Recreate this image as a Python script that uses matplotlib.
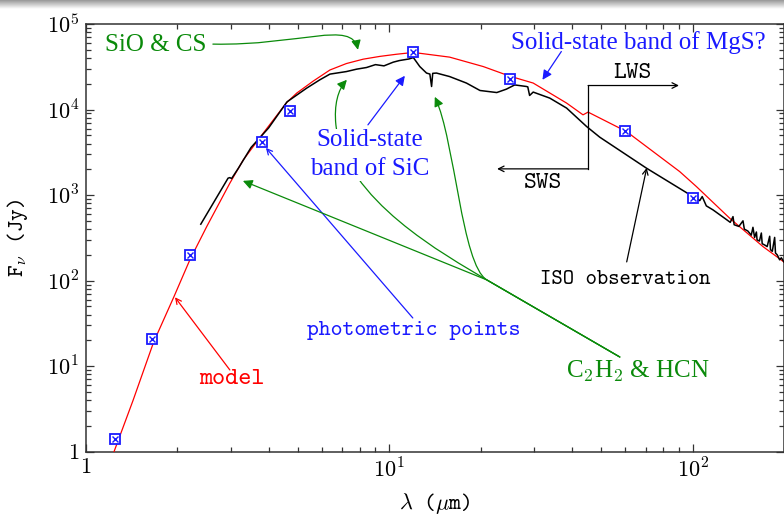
import numpy as np
import matplotlib
matplotlib.use('Agg')
import matplotlib.pyplot as plt
from matplotlib.path import Path
from matplotlib.patches import FancyArrowPatch
from matplotlib.ticker import FixedLocator, FixedFormatter, LogLocator, NullFormatter

plt.rcParams['mathtext.fontset'] = 'cm'
plt.rcParams['font.family'] = ['Liberation Serif', 'DejaVu Serif']
TT = ['cmtt10', 'DejaVu Sans Mono']

# ---------------- data ----------------
model_wavelength = [1.237, 1.43, 1.67, 1.95, 2.20, 2.50, 2.98, 3.30, 3.84, 4.58, 4.95, 5.61,
                    6.37, 7.22, 8.20, 9.30, 10.56, 12.0, 15.8, 20.4, 25.0, 29.8, 38.4, 43.5,
                    45.2, 60.5, 90.6, 102.9, 132.4, 170.5, 200.0]
model_flux = [1.0, 4.0, 19.0, 65.0, 175.0, 428.0, 1378.0, 2580.0, 5300.0, 12000.0, 15560.0,
              21500.0, 29000.0, 34500.0, 38800.0, 41800.0, 44300.0, 46500.0, 41000.0, 31800.0,
              24500.0, 20400.0, 11900.0, 8670.0, 9330.0, 5530.0, 1883.0, 1256.0, 537.0,
              250.0, 165.0]

iso_wavelength = [2.39, 2.94, 2.98, 3.02, 3.18, 3.5, 4.0, 4.6, 5.34, 5.90, 6.37, 7.22, 7.80,
                  8.41, 9.0, 9.6, 10.3, 10.8, 11.6, 12.0, 12.6, 13.26, 13.6, 13.78, 13.9,
                  14.3, 15.8, 17.95, 19.9, 22.6, 24.3, 25.9, 28.3, 28.6, 29.0, 29.8, 33.8,
                  38.4, 44.7, 49.4, 70.4, 100.2, 105.5, 107.5, 110.9, 116.7, 128.0, 133.0,
                  135.8, 137.0, 142.0, 146.5, 148.0, 152.0, 156.0, 158.0, 160.0, 162.2,
                  163.0, 166.0, 168.4, 169.5, 173.0, 176.0, 179.4, 180.5, 183.0, 186.3,
                  187.5, 190.0, 193.5, 196.0, 200.0]
iso_flux = [457.0, 1577.0, 1600.0, 1560.0, 2063.0, 3600.0, 6100.0, 12300.0, 17800.0, 22260.0,
            25950.0, 27800.0, 29650.0, 31000.0, 33500.0, 32400.0, 35800.0, 37400.0, 39000.0,
            40500.0, 31800.0, 26700.0, 26000.0, 18600.0, 26500.0, 26700.0, 24300.0, 20400.0,
            16700.0, 15800.0, 17300.0, 19400.0, 18600.0, 18400.0, 14600.0, 16000.0, 13600.0,
            10400.0, 6330.0, 4750.0, 2064.0, 960.0, 862.0, 960.0, 748.0, 671.0, 530.0, 480.0,
            560.0, 450.0, 430.0, 500.0, 400.0, 380.0, 340.0, 420.0, 320.0, 370.0, 300.0,
            290.0, 360.0, 270.0, 260.0, 250.0, 330.0, 230.0, 220.0, 320.0, 210.0, 200.0,
            175.0, 185.0, 165.0]

phot_wavelength = [1.25, 1.65, 2.2, 3.8, 4.7, 12.0, 25.0, 60.0, 100.0]
phot_flux = [1.4, 21.0, 200.0, 4200.0, 9700.0, 47000.0, 23000.0, 5600.0, 920.0]

x_ticks = [1, 10, 100]
x_tick_labels = ['$1$', '$10^{1}$', '$10^{2}$']
y_ticks = [1, 10, 100, 1e3, 1e4, 1e5]
y_tick_labels = ['$1$', '$10^{1}$', '$10^{2}$', '$10^{3}$', '$10^{4}$', '$10^{5}$']

# ---------------- style ----------------
RED = '#ff0000'
BLUE = '#1a1aff'
GREEN = '#0a8a0a'
BLACK = '#000000'

fig = plt.figure(figsize=(7.84, 5.17), dpi=100)

# thin grey band at the very top (screenshot edge)
band = fig.add_axes([0, 1 - 9 / 517, 1, 9 / 517])
grad = np.linspace(0.55, 1.0, 32)[:, None] * np.ones((1, 4))
band.imshow(grad, cmap='gray', vmin=0, vmax=1, aspect='auto', extent=[0, 1, 0, 1])
band.axis('off')

ax = fig.add_axes([86 / 784, (517 - 451.7) / 517, (784 - 86) / 784, (451.7 - 24) / 517])
ax.set_xscale('log')
ax.set_yscale('log')
ax.set_xlim(1, 200)
ax.set_ylim(1, 1e5)

ax.plot(model_wavelength, model_flux, color=RED, lw=0.9, zorder=3)
ax.plot(iso_wavelength, iso_flux, color=BLACK, lw=1.1, zorder=4)
ax.plot(phot_wavelength, phot_flux, ls='none', marker='s', ms=6.8, mfc='white',
        mec=BLUE, mew=1.3, zorder=7)
ax.plot(phot_wavelength, phot_flux, ls='none', marker='x', ms=4.4, mec=BLUE, mew=1.0, zorder=8)

# ticks
ax.xaxis.set_major_locator(FixedLocator(x_ticks))
ax.xaxis.set_major_formatter(FixedFormatter(x_tick_labels))
ax.yaxis.set_major_locator(FixedLocator(y_ticks))
ax.yaxis.set_major_formatter(FixedFormatter(y_tick_labels))
ax.xaxis.set_minor_locator(LogLocator(base=10, subs=np.arange(2, 10), numticks=20))
ax.yaxis.set_minor_locator(LogLocator(base=10, subs=np.arange(2, 10), numticks=20))
ax.xaxis.set_minor_formatter(NullFormatter())
ax.yaxis.set_minor_formatter(NullFormatter())
ax.tick_params(which='both', direction='in', top=True, right=True, width=0.9, colors='#333333',
               labelcolor='black')
ax.tick_params(which='major', length=6, labelsize=16, pad=5)
ax.tick_params(which='minor', length=3.5)
for s in ax.spines.values():
    s.set_linewidth(1.1)
    s.set_color('#333333')

ax.set_xlabel(r'$\lambda$ ($\mu$m)', fontsize=16, labelpad=6, family=TT)
ax.set_ylabel(r'F$_{\nu}$ (Jy)', fontsize=16, labelpad=12, family=TT)

# ---------------- annotations ----------------
arrow_kw = dict(shrinkA=0, shrinkB=0)

# SiO & CS
ax.text(1.155, 57100, 'SiO & CS', color=GREEN, fontsize=18, ha='left', va='center')
sio_path = Path([(2.62, 58200), (5.07, 55600), (7.52, 112000), (7.88, 49900)],
                [Path.MOVETO, Path.CURVE4, Path.CURVE4, Path.CURVE4])
ax.add_patch(FancyArrowPatch(path=sio_path, arrowstyle='-|>', mutation_scale=14, color=GREEN,
                             lw=0.9, zorder=5, transform=ax.transData))

# Solid-state band of SiC (white box hides the green C2H2 line behind it)
ax.text(8.63, 2950, 'Solid-state\nband of SiC', color=BLUE, fontsize=18, ha='center',
        va='center', linespacing=1.4, zorder=6,
        bbox=dict(fc='white', ec='none', pad=0.5))
ax.annotate('', xy=(11.25, 24800), xytext=(8.50, 6620),
            arrowprops=dict(arrowstyle='-|>', color=BLUE, lw=0.9, mutation_scale=14, **arrow_kw),
            zorder=7)

# C2H2 & HCN
c2h2_anchor = (57.5, 12.8)
junction = (20.96, 101.9)
ax.text(65.8, 8.63, r'C$_2$H$_2$ & HCN', color=GREEN, fontsize=18, ha='center', va='center')
green_paths = [
    Path([c2h2_anchor, junction, (3.29, 1466)],
         [Path.MOVETO, Path.LINETO, Path.LINETO]),
    Path([c2h2_anchor, junction, (17.33, 152.6), (16.44, 4422), (14.12, 14080)],
         [Path.MOVETO, Path.LINETO, Path.CURVE4, Path.CURVE4, Path.CURVE4]),
    Path([c2h2_anchor, junction, (15.24, 199.8), (7.135, 878.9), (6.665, 6624),
          (6.565, 11350), (6.767, 17000), (7.244, 22260)],
         [Path.MOVETO, Path.LINETO, Path.CURVE4, Path.CURVE4, Path.CURVE4,
          Path.CURVE4, Path.CURVE4, Path.CURVE4]),
]
for p in green_paths:
    ax.add_patch(FancyArrowPatch(path=p, arrowstyle='-|>', mutation_scale=14, color=GREEN,
                                 lw=0.9, zorder=5, transform=ax.transData))

# photometric points
ax.text(12.04, 25.8, 'photometric points', color=BLUE, fontsize=16.3, family=TT,
        ha='center', va='center')
ax.annotate('', xy=(3.918, 3565), xytext=(11.95, 36.6),
            arrowprops=dict(arrowstyle='->', color=BLUE, lw=0.9, **arrow_kw))

# model
ax.text(3.03, 6.9, 'model', color=RED, fontsize=18, family=TT, ha='center', va='center')
ax.annotate('', xy=(1.965, 63.9), xytext=(2.98, 9.03),
            arrowprops=dict(arrowstyle='->', color=RED, lw=0.9, **arrow_kw))

# ISO observation
ax.text(59.9, 101.9, 'ISO observation', color=BLACK, fontsize=15.6, family=TT,
        ha='center', va='center')
ax.annotate('', xy=(70.55, 2080), xytext=(60.6, 165.5),
            arrowprops=dict(arrowstyle='->', color=BLACK, lw=0.9, **arrow_kw))

# MgS
ax.text(66.1, 60260, 'Solid-state band of MgS?', color=BLUE, fontsize=18,
        ha='center', va='center')
ax.annotate('', xy=(31.97, 22260), xytext=(36.9, 47700),
            arrowprops=dict(arrowstyle='-|>', color=BLUE, lw=0.9, mutation_scale=14, **arrow_kw))

# SWS / LWS split
split_wl = 45.2
lws_level, sws_level = 19090, 2025
ax.plot([split_wl, split_wl], [sws_level, lws_level], color=BLACK, lw=0.9, zorder=5)
ax.annotate('', xy=(90.1, lws_level), xytext=(split_wl, lws_level),
            arrowprops=dict(arrowstyle='->', color=BLACK, lw=0.9, **arrow_kw))
ax.annotate('', xy=(22.66, sws_level), xytext=(split_wl, sws_level),
            arrowprops=dict(arrowstyle='->', color=BLACK, lw=0.9, **arrow_kw))
ax.text(63.4, 26160, 'LWS', color=BLACK, fontsize=17.5, family=TT, ha='center', va='center')
ax.text(32.0, 1352, 'SWS', color=BLACK, fontsize=17.5, family=TT, ha='center', va='center')

fig.savefig('out.png', dpi=100)
